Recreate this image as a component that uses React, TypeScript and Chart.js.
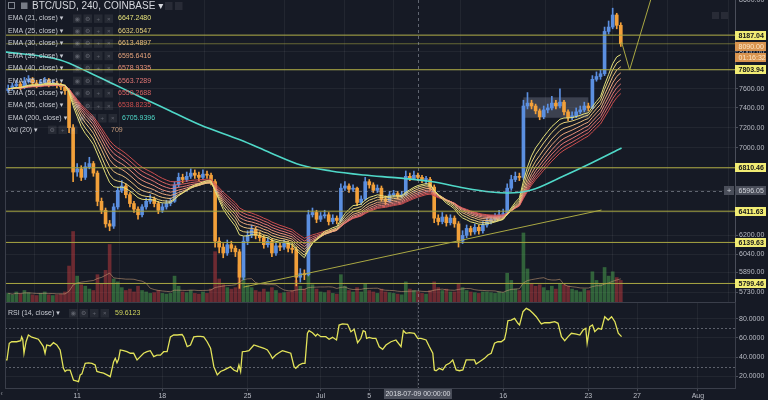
import React, { useEffect, useRef } from 'react';
import { Chart, registerables } from 'chart.js';

Chart.register(...registerables);

const FONT = '"Liberation Sans", "DejaVu Sans", Arial, sans-serif';
const BG = '#161a25';
const GRID = 'rgba(255,255,255,0.055)';
const AXIS_TEXT = '#b9bcc5';
const BORDER = '#3a3e4a';
const UP = '#5b8fe0';
const DOWN = '#f2a03a';
const VOL_UP = 'rgba(76,170,80,0.5)';
const VOL_DOWN = 'rgba(196,58,62,0.5)';
const LEVEL = '#aaa843';
const EMA200_COLOR = '#4fd8c8';

// ---------------- data ----------------
// Time is counted in days from 2018-06-01 (1 = Jun 1 00:00, 31 = Jul 1, 62 = Aug 1).
const candleStartDay = 5 + 8 / 24; // first candle Jun 5 08:00
const candleStepDays = 8 / 24; // candles read every 8 hours
const firstOpen = 7580;

const closes = [
  7600, 7630, 7650, 7620, 7680, 7700, 7660, 7640, 7670, 7690,
  7650, 7660, 7640, 7620, 7580, 7200, 6770, 6800, 6720, 6820,
  6850, 6760, 6500, 6420, 6300, 6280, 6450, 6600, 6640, 6560,
  6480, 6430, 6380, 6450, 6500, 6520, 6480, 6420, 6450, 6480,
  6500, 6650, 6720, 6700, 6730, 6760, 6740, 6720, 6750, 6740,
  6680, 6150, 6100, 6050, 6120, 6090, 6060, 5850, 6150, 6200,
  6250, 6200, 6180, 6120, 6150, 6050, 6110, 6100, 6130, 6090,
  6080, 5850, 5880, 5870, 6380, 6400, 6340, 6370, 6380, 6320,
  6350, 6330, 6620, 6640, 6610, 6620, 6490, 6520, 6680, 6650,
  6600, 6620, 6520, 6500, 6560, 6570, 6550, 6560, 6730, 6710,
  6740, 6720, 6700, 6700, 6630, 6350, 6320, 6360, 6310, 6350,
  6300, 6150, 6200, 6260, 6230, 6270, 6240, 6290, 6320, 6340,
  6360, 6380, 6390, 6620, 6700, 6730, 6720, 7420, 7450, 7420,
  7370, 7310, 7380, 7400, 7450, 7420, 7460, 7360, 7300, 7320,
  7360, 7380, 7420, 7400, 7700, 7730, 7760, 8230, 8280, 8420,
  8300, 8090,
];

const highs = [
  7640, 7660, 7690, 7670, 7720, 7740, 7720, 7690, 7700, 7720,
  7710, 7690, 7680, 7660, 7640, 7600, 7230, 6850, 6830, 6860,
  6910, 6870, 6780, 6530, 6440, 6330, 6480, 6630, 6690, 6660,
  6580, 6500, 6450, 6470, 6530, 6560, 6540, 6500, 6480, 6510,
  6530, 6680, 6760, 6750, 6770, 6800, 6790, 6770, 6790, 6780,
  6760, 6700, 6180, 6130, 6160, 6150, 6110, 6080, 6190, 6240,
  6290, 6270, 6230, 6200, 6180, 6170, 6140, 6140, 6160, 6150,
  6120, 6100, 5920, 5910, 6420, 6440, 6420, 6400, 6420, 6400,
  6380, 6370, 6660, 6680, 6660, 6650, 6630, 6550, 6720, 6700,
  6670, 6650, 6640, 6550, 6590, 6600, 6590, 6590, 6780, 6760,
  6780, 6760, 6740, 6730, 6720, 6650, 6380, 6400, 6380, 6380,
  6370, 6320, 6240, 6290, 6280, 6300, 6290, 6320, 6350, 6370,
  6390, 6420, 6430, 6660, 6740, 6770, 6760, 7480, 7560, 7480,
  7440, 7390, 7420, 7440, 7520, 7480, 7600, 7480, 7380, 7360,
  7400, 7420, 7460, 7450, 7740, 7780, 7800, 8280, 8350, 8500,
  8440, 8330,
];

const lows = [
  7560, 7585, 7610, 7590, 7600, 7660, 7630, 7610, 7620, 7650,
  7620, 7630, 7610, 7590, 7540, 7150, 6680, 6730, 6690, 6700,
  6800, 6730, 6460, 6390, 6270, 6240, 6260, 6430, 6580, 6530,
  6450, 6400, 6340, 6360, 6430, 6480, 6450, 6390, 6400, 6430,
  6460, 6490, 6630, 6670, 6680, 6710, 6710, 6690, 6700, 6710,
  6650, 6100, 6050, 6010, 6030, 6060, 6020, 5760, 5830, 6120,
  6180, 6170, 6150, 6090, 6100, 6020, 6030, 6070, 6080, 6060,
  6050, 5780, 5810, 5830, 5860, 6360, 6310, 6320, 6350, 6290,
  6300, 6300, 6320, 6600, 6580, 6590, 6460, 6470, 6510, 6620,
  6580, 6580, 6500, 6470, 6490, 6540, 6520, 6530, 6550, 6690,
  6700, 6690, 6670, 6660, 6600, 6310, 6290, 6300, 6280, 6290,
  6270, 6100, 6130, 6180, 6200, 6210, 6210, 6220, 6270, 6300,
  6320, 6340, 6350, 6380, 6600, 6680, 6690, 6700, 7390, 7390,
  7340, 7280, 7290, 7350, 7380, 7390, 7400, 7330, 7270, 7280,
  7300, 7340, 7360, 7370, 7390, 7680, 7700, 7740, 8200, 8260,
  8260, 8060,
];

const volumes = [
  600, 500, 700, 550, 800, 650, 500, 450, 600, 700,
  500, 450, 500, 550, 700, 2500, 4900, 1800, 1200, 1100,
  900, 800, 1900, 1300, 2200, 4000, 1600, 1400, 1000, 800,
  900, 700, 1100, 800, 700, 600, 650, 800, 600, 550,
  600, 1800, 1100, 700, 650, 800, 600, 550, 700, 600,
  900, 3500, 1600, 1200, 1000, 900, 1000, 2600, 2200, 1200,
  1000, 800, 700, 900, 700, 1000, 800, 600, 650, 700,
  800, 1500, 1100, 900, 2000, 1200, 900, 700, 650, 800,
  600, 550, 1900, 1100, 800, 700, 1000, 700, 1300, 800,
  700, 600, 900, 700, 650, 600, 550, 500, 1400, 900,
  800, 709, 600, 550, 800, 1400, 1000, 800, 900, 700,
  700, 1300, 1000, 800, 700, 650, 600, 700, 700, 650,
  600, 700, 650, 2000, 1500, 900, 800, 4800, 2300, 1300,
  1100, 1200, 1000, 800, 1100, 900, 1300, 1200, 1100, 900,
  800, 700, 900, 800, 2100, 1500, 1300, 2400, 1800, 2100,
  1700, 1500,
];

const ema200Days = [5.07, 9.6, 12.07, 13.97, 16.19, 18.66, 21.13, 24.43, 26.9, 29.37, 31.84, 34.56, 37.36, 40.08, 42.8, 45.02, 46.42, 48.32, 50.79, 53.26, 55.73];
const ema200Values = [8000, 7910, 7769, 7651, 7514, 7369, 7227, 7078, 6952, 6837, 6780, 6742, 6715, 6682, 6622, 6585, 6576, 6603, 6724, 6856, 7000];

const rsiDays = [
  5.07, 5.23, 5.42, 5.62, 6.03, 6.36, 6.44, 6.53, 6.63, 6.8,
  6.99, 7.27, 7.54, 7.81, 7.95, 8.22, 8.36, 8.5, 8.78, 9.05,
  9.33, 9.6, 9.87, 10.01, 10.15, 10.42, 10.7, 10.98, 11.11, 11.25,
  11.39, 11.66, 11.93, 12.21, 12.48, 12.62, 12.89, 13.17, 13.45, 13.72,
  13.99, 14.13, 14.27, 14.4, 14.54, 14.81, 15.09, 15.37, 15.64, 15.78,
  15.92, 16.05, 16.19, 16.46, 16.74, 17.01, 17.29, 17.56, 17.84, 18.11,
  18.39, 18.66, 18.93, 19.21, 19.62, 19.76, 20.04, 20.31, 20.58, 20.86,
  21.13, 21.4, 21.68, 21.96, 22.23, 22.51, 22.78, 23.05, 23.33, 23.6,
  23.87, 24.15, 24.29, 24.43, 24.57, 24.84, 25.11, 25.52, 25.93, 26.35,
  26.63, 26.9, 27.04, 27.31, 27.58, 27.86, 28.13, 28.55, 28.82, 28.96,
  29.23, 29.51, 29.72, 29.92, 30.05, 30.33, 30.6, 30.74, 31.02, 31.43,
  31.7, 31.98, 32.31, 32.52, 32.8, 33.22, 33.49, 33.76, 34.04, 34.31,
  34.5, 34.67, 34.78, 34.99, 35.27, 35.54, 35.82, 36.1, 36.37, 36.78,
  37.19, 37.61, 37.8, 38.02, 38.29, 38.71, 38.98, 39.25, 39.67, 39.94,
  40.22, 40.35, 40.49, 40.76, 41.04, 41.31, 41.59, 41.86, 42.0, 42.14,
  42.41, 42.69, 42.96, 43.23, 43.64, 43.78, 44.06, 44.47, 44.75, 45.02,
  45.29, 45.57, 45.84, 46.11, 46.25, 46.39, 46.66, 46.94, 47.21, 47.35,
  47.63, 47.9, 48.17, 48.45, 48.72, 49.0, 49.14, 49.41, 49.82, 50.24,
  50.51, 50.65, 50.79, 51.06, 51.34, 51.61, 52.02, 52.3, 52.57, 52.79,
  52.9, 53.12, 53.34, 53.53, 53.81, 54.08, 54.35, 54.63, 54.91, 55.18,
  55.46, 55.73,
];
const rsiValues = [
  37, 37, 54.4, 56, 56, 57.1, 61, 58.4, 44, 56,
  63, 60.7, 59.7, 58.6, 56, 51, 44, 52.6, 51.6, 55,
  52.6, 47.4, 28.3, 25, 26.5, 26.5, 16, 15, 14.4, 21.5,
  22.5, 33.5, 34, 33.5, 31.8, 25, 24, 23.2, 21.5, 19.6,
  35, 38.7, 34, 37.6, 47.4, 46.7, 45.6, 44, 44, 40.5,
  37, 38.7, 40.5, 44, 45.6, 46.7, 40.5, 42, 42, 45.6,
  45.6, 61, 63, 63, 63.5, 61, 51, 52.6, 61, 61.5,
  61.5, 61, 56, 49.3, 30, 21.5, 25, 26.5, 28.3, 30,
  26.5, 25, 31.8, 25, 45.6, 46, 46.7, 52.6, 50.8, 49.2,
  47.4, 42.2, 38.7, 42.2, 44.6, 46.7, 45.6, 44, 30, 28.3,
  31.8, 33.5, 33.5, 64.8, 67.5, 65.4, 62, 64, 61.3, 61.3,
  58.5, 60.6, 57.8, 73.4, 74.5, 74.1, 66.5, 69, 55, 59.6,
  67.5, 66.5, 59.6, 60.6, 59.6, 59.6, 50.8, 48.1, 52.6, 56,
  57.8, 50.8, 67.5, 64.8, 65.4, 64.8, 59.6, 59.6, 57.8, 50.8,
  44, 26.6, 25.8, 28.3, 26.6, 31.8, 33.5, 37, 31.8, 26.6,
  25.8, 26.6, 37, 37, 37, 32.8, 35.2, 38.7, 42.2, 44,
  54.4, 56, 56, 58.5, 66.5, 77.9, 78.6, 80.4, 75.2, 73.4,
  87.3, 90.8, 89, 85.6, 82.1, 76.9, 74.5, 75.8, 75.8, 76.9,
  75.2, 68.2, 61.3, 57.1, 61.3, 64.8, 64, 63, 68.2, 70,
  54.4, 71.7, 73.4, 66.5, 70, 69, 82.1, 78.6, 82.1, 76.9,
  64.8, 61.3,
];

const levelPrices = [8187.04, 7803.94, 6810.46, 6411.63, 6139.63, 5799.46];
const lastPrice = 8090.0;
const countdownText = '01:16:32';
const crosshairDay = 39; // 2018-07-09 00:00
const crosshairPrice = 6596.05;
const crosshairLabel = '2018-07-09 00:00:00';
const trendDays = [24.67, 54.08];
const trendPrices = [5770, 6422];
const projectionDays = [55.73, 56.39, 58.25];
const projectionPrices = [8110, 7800, 8660];
const boxDays = [47.66, 53.0];
const boxPrices = [7300, 7510];

const xTickDays = [11, 18, 25, 31, 35, 39, 46, 53, 57, 62];
const xTickLabels = ['11', '18', '25', 'Jul', '5', '', '16', '23', '27', 'Aug'];
const priceTicks = [5730, 5890, 6040, 6200, 6400, 6600, 6800, 7000, 7200, 7400, 7600, 7800, 8000, 8200, 8600];
const rsiTicks = [20, 40, 60, 80];

const emaPeriods = [21, 25, 30, 35, 40, 45, 50, 55];
const emaColors = ['#e6e27a', '#e8d27c', '#e9bd7d', '#e9a67d', '#e88f7b', '#e27775', '#d86262', '#cc4e4e'];
const emaLegendValues = ['6647.2480', '6632.0547', '6613.4897', '6595.6416', '6578.9335', '6563.7289', '6550.2688', '6538.8235'];
const ema200Legend = '6705.9396';
const volLegend = '709';
const rsiLegend = '59.6123';

// axis ranges
const X_MIN = 5.07;
const X_MAX = 65.05;
const PRICE_MIN = 5652;
const PRICE_MAX = 8597;
const VOL_MAX = 21000;
const RSI_MIN = 7.8;
const RSI_MAX = 96.35;

// ---------------- helpers ----------------
function emaOf(values: number[], period: number): number[] {
  // periods count 4h bars; the series here is sampled every 8h
  const k = 2 / (period / 2 + 1);
  const out: number[] = [];
  let e = values[0];
  values.forEach((v, i) => {
    e = i === 0 ? v : v * k + e * (1 - k);
    out.push(e);
  });
  return out;
}

function smaOf(values: number[], n: number): number[] {
  return values.map((_, i) => {
    const s = values.slice(Math.max(0, i - n + 1), i + 1);
    return s.reduce((a, b) => a + b, 0) / s.length;
  });
}

function font(size: number, bold = false) {
  return `${bold ? 'bold ' : ''}${size}px ${FONT}`;
}

function tag(ctx: CanvasRenderingContext2D, yc: number, text: string, bg: string, fg: string, bold: boolean) {
  ctx.fillStyle = bg;
  ctx.fillRect(735, Math.round(yc - 4.5), 31, 9);
  ctx.fillStyle = fg;
  ctx.font = font(7, bold);
  ctx.textAlign = 'left';
  ctx.textBaseline = 'middle';
  ctx.fillText(text, 738.5, Math.round(yc - 4.5) + 4.8);
}

function buttons(ctx: CanvasRenderingContext2D, x0: number, yc: number, n: number) {
  const glyphs = ['◉', '⚙', '+', '×'];
  for (let j = 0; j < n; j++) {
    const bx = x0 + j * 10.5;
    ctx.fillStyle = 'rgba(255,255,255,0.07)';
    ctx.fillRect(bx, yc - 4, 8.5, 8.5);
    ctx.fillStyle = 'rgba(200,204,212,0.35)';
    ctx.font = font(6);
    ctx.textAlign = 'center';
    ctx.fillText(glyphs[j + (4 - n)], bx + 4.25, yc + 0.5);
  }
  ctx.textAlign = 'left';
}

const mainOverlay = {
  id: 'mainOverlay',
  beforeDatasetsDraw(chart: any) {
    const { ctx, scales } = chart;
    const x1 = scales.x.getPixelForValue(boxDays[0]);
    const x2 = scales.x.getPixelForValue(boxDays[1]);
    const y1 = scales.y.getPixelForValue(boxPrices[1]);
    const y2 = scales.y.getPixelForValue(boxPrices[0]);
    ctx.save();
    ctx.fillStyle = 'rgba(150,156,178,0.30)';
    ctx.fillRect(x1, y1, x2 - x1, y2 - y1);
    ctx.restore();
  },
  afterDatasetsDraw(chart: any) {
    const { ctx, chartArea: a, scales } = chart;
    const cx = Math.round(scales.x.getPixelForValue(crosshairDay)) + 0.5;
    const cy = Math.round(scales.y.getPixelForValue(crosshairPrice)) + 0.5;
    ctx.save();
    ctx.strokeStyle = 'rgba(170,175,188,0.5)';
    ctx.lineWidth = 1;
    ctx.setLineDash([3, 3]);
    ctx.beginPath();
    ctx.moveTo(cx, a.top);
    ctx.lineTo(cx, a.bottom);
    ctx.moveTo(a.left, cy);
    ctx.lineTo(a.right, cy);
    ctx.stroke();
    ctx.restore();
  },
  afterDraw(chart: any) {
    const { ctx, chartArea: a, scales } = chart;
    ctx.save();
    // left border
    ctx.strokeStyle = BORDER;
    ctx.lineWidth = 1;
    ctx.beginPath();
    ctx.moveTo(a.left + 0.5, a.top);
    ctx.lineTo(a.left + 0.5, a.bottom);
    ctx.stroke();

    // title
    ctx.strokeStyle = 'rgba(200,205,215,0.6)';
    ctx.strokeRect(8.5, 2.5, 6, 6);
    ctx.fillStyle = 'rgba(200,205,215,0.55)';
    ctx.fillRect(21, 2.5, 6.5, 6.5);
    ctx.font = font(10);
    ctx.fillStyle = '#d6d8de';
    ctx.textBaseline = 'middle';
    ctx.textAlign = 'left';
    ctx.fillText('BTC/USD, 240, COINBASE ▾', 32, 6.5);
    ctx.fillStyle = 'rgba(255,255,255,0.08)';
    ctx.fillRect(165, 2, 7.5, 8);
    ctx.fillRect(175, 2, 7.5, 8);
    ctx.fillRect(712, 12, 7, 7);
    ctx.fillRect(721, 12, 7, 7);

    // indicator legend rows
    const rows = emaPeriods.map((p, k) => ({
      label: `EMA (${p}, close) ▾`, value: emaLegendValues[k], color: emaColors[k], bx: 73, vx: 118, n: 4,
    }));
    rows.push({ label: 'EMA (200, close) ▾', value: ema200Legend, color: EMA200_COLOR, bx: 77, vx: 122, n: 4 });
    rows.push({ label: 'Vol (20) ▾', value: volLegend, color: '#c89c7c', bx: 48, vx: 111, n: 3 });
    rows.forEach((r, k) => {
      const yc = k < 9 ? 18.4 + k * 12.45 : 129.6;
      ctx.font = font(7);
      ctx.fillStyle = '#c8cbd2';
      ctx.textBaseline = 'middle';
      ctx.fillText(r.label, 8, yc);
      buttons(ctx, r.bx, yc, r.n);
      ctx.font = font(7);
      ctx.fillStyle = r.color;
      ctx.textBaseline = 'middle';
      ctx.fillText(r.value, r.vx, yc);
    });

    // price tags on the right axis
    const ys = scales.y;
    levelPrices.forEach((p) => tag(ctx, ys.getPixelForValue(p), p.toFixed(2), '#f1ec74', '#15161a', true));
    const lp = ys.getPixelForValue(lastPrice);
    tag(ctx, lp + 3, lastPrice.toFixed(2), '#d9944f', '#fde6c6', false);
    tag(ctx, lp + 13.5, countdownText, '#d9944f', '#fde6c6', false);
    const cp = ys.getPixelForValue(crosshairPrice);
    tag(ctx, cp, crosshairPrice.toFixed(2), '#4a4e5a', '#d0d3da', false);
    ctx.fillStyle = '#4a4e5a';
    ctx.fillRect(724, Math.round(cp - 4.5), 10, 9);
    ctx.fillStyle = '#c9ccd3';
    ctx.font = font(8);
    ctx.textAlign = 'center';
    ctx.fillText('+', 729, Math.round(cp - 4.5) + 4.8);
    ctx.restore();
  },
};

const rsiOverlay = {
  id: 'rsiOverlay',
  beforeDatasetsDraw(chart: any) {
    const { ctx, chartArea: a, scales } = chart;
    ctx.save();
    ctx.strokeStyle = 'rgba(180,185,196,0.45)';
    ctx.lineWidth = 1;
    ctx.setLineDash([2, 2]);
    ctx.beginPath();
    [30, 70].forEach((v) => {
      const y = Math.round(scales.y.getPixelForValue(v)) + 0.5;
      ctx.moveTo(a.left, y);
      ctx.lineTo(a.right, y);
    });
    const cx = Math.round(scales.x.getPixelForValue(crosshairDay)) + 0.5;
    ctx.moveTo(cx, a.top);
    ctx.lineTo(cx, a.bottom);
    ctx.stroke();
    ctx.restore();
  },
  afterDraw(chart: any) {
    const { ctx, chartArea: a, scales } = chart;
    ctx.save();
    ctx.strokeStyle = BORDER;
    ctx.lineWidth = 1;
    ctx.strokeRect(a.left + 0.5, a.top - 0.5, a.right - a.left, a.bottom - a.top + 1);

    const yc = 11;
    ctx.font = font(7);
    ctx.fillStyle = '#c8cbd2';
    ctx.textBaseline = 'middle';
    ctx.textAlign = 'left';
    ctx.fillText('RSI (14, close) ▾', 8, yc);
    buttons(ctx, 69, yc, 4);
    ctx.font = font(7);
    ctx.fillStyle = '#cfd45e';
    ctx.fillText(rsiLegend, 115, yc);

    // crosshair time label
    const cx = scales.x.getPixelForValue(crosshairDay);
    ctx.fillStyle = '#4b4f5b';
    ctx.fillRect(cx - 34, a.bottom + 1, 68, 10);
    ctx.fillStyle = '#d8dae0';
    ctx.font = font(7);
    ctx.textAlign = 'center';
    ctx.fillText(crosshairLabel, cx, a.bottom + 6.3);
    ctx.fillStyle = '#8a8d96';
    ctx.textAlign = 'left';
    ctx.fillText('‹', 0.5, a.bottom + 6);
    ctx.restore();
  },
};

function buildMainConfig(): any {
  const candleDays = closes.map((_, i) => candleStartDay + i * candleStepDays);
  const opens = closes.map((_, i) => (i === 0 ? firstOpen : closes[i - 1]));
  const candleColors = closes.map((c, i) => (c >= opens[i] ? UP : DOWN));
  const volColors = closes.map((c, i) => (c >= opens[i] ? VOL_UP : VOL_DOWN));
  const volMa = smaOf(volumes, 10);

  const line = (data: any[], color: string, width: number, order: number, extra: any = {}) => ({
    type: 'line', data, borderColor: color, borderWidth: width, pointRadius: 0, order, yAxisID: 'y', ...extra,
  });

  const datasets: any[] = [
    line(projectionDays.map((d, i) => ({ x: d, y: projectionPrices[i] })), LEVEL, 1, 0),
    line(trendDays.map((d, i) => ({ x: d, y: trendPrices[i] })), LEVEL, 1, 0),
    line([{ x: X_MIN, y: lastPrice }, { x: X_MAX, y: lastPrice }], 'rgba(170,168,67,0.55)', 1, 1),
    ...levelPrices.map((p) => line([{ x: X_MIN, y: p }, { x: X_MAX, y: p }], LEVEL, 1, 1)),
    line(ema200Days.map((d, i) => ({ x: d, y: ema200Values[i] })), EMA200_COLOR, 1.6, 2, { cubicInterpolationMode: 'monotone' }),
    ...emaPeriods.map((p, k) => {
      const vals = emaOf(closes, p);
      return line(vals.map((v, i) => ({ x: candleDays[i], y: v })), emaColors[k], 1, 3);
    }),
    {
      type: 'bar', data: candleDays.map((d, i) => ({ x: d, y: [opens[i], closes[i]] })),
      backgroundColor: candleColors, barThickness: 3, minBarLength: 1, grouped: false, order: 4, yAxisID: 'y',
    },
    {
      type: 'bar', data: candleDays.map((d, i) => ({ x: d, y: [lows[i], highs[i]] })),
      backgroundColor: candleColors, barThickness: 1, grouped: false, order: 5, yAxisID: 'y',
    },
    {
      type: 'line', data: volMa.map((v, i) => ({ x: candleDays[i], y: v })), borderColor: 'rgba(205,160,120,0.55)',
      borderWidth: 1, pointRadius: 0, order: 6, yAxisID: 'v',
    },
    {
      type: 'bar', data: candleDays.map((d, i) => ({ x: d, y: volumes[i] })),
      backgroundColor: volColors, barThickness: 3, grouped: false, order: 7, yAxisID: 'v',
    },
  ];

  return {
    type: 'bar',
    data: { datasets },
    plugins: [mainOverlay],
    options: {
      animation: false,
      responsive: false,
      devicePixelRatio: 1,
      events: [],
      layout: { padding: { left: 5, right: 0, top: 0, bottom: 0 } },
      plugins: { legend: { display: false }, tooltip: { enabled: false } },
      scales: {
        x: {
          type: 'linear', min: X_MIN, max: X_MAX, offset: false,
          afterBuildTicks: (s: any) => { s.ticks = xTickDays.map((v) => ({ value: v })); },
          ticks: { display: false },
          grid: { color: GRID, drawTicks: false },
          border: { display: false },
          afterFit: (s: any) => { s.height = 0; s.paddingLeft = 0; s.paddingRight = 0; },
        },
        y: {
          type: 'logarithmic', position: 'right', min: PRICE_MIN, max: PRICE_MAX,
          afterBuildTicks: (s: any) => { s.ticks = priceTicks.map((v) => ({ value: v })); },
          ticks: {
            callback: (v: any) => Number(v).toFixed(2), color: AXIS_TEXT, font: { size: 7, family: FONT },
            padding: 1, autoSkip: false,
          },
          grid: { color: GRID, tickLength: 3, tickColor: '#4a4e5a' },
          border: { display: true, color: '#4a4e5a' },
          afterFit: (s: any) => { s.width = 33; s.paddingTop = 0; s.paddingBottom = 0; },
        },
        v: { type: 'linear', axis: 'y', display: false, min: 0, max: VOL_MAX },
      },
    },
  };
}

function buildRsiConfig(): any {
  return {
    type: 'line',
    data: {
      datasets: [{
        data: rsiDays.map((d, i) => ({ x: d, y: rsiValues[i] })),
        borderColor: '#e3e35a', borderWidth: 1.3, pointRadius: 0,
      }],
    },
    plugins: [rsiOverlay],
    options: {
      animation: false,
      responsive: false,
      devicePixelRatio: 1,
      events: [],
      layout: { padding: { left: 5, right: 0, top: 1, bottom: 0 } },
      plugins: { legend: { display: false }, tooltip: { enabled: false } },
      scales: {
        x: {
          type: 'linear', min: X_MIN, max: X_MAX, offset: false,
          afterBuildTicks: (s: any) => { s.ticks = xTickDays.map((v) => ({ value: v })); },
          ticks: {
            callback: (v: any) => { const i = xTickDays.indexOf(Number(v)); return i >= 0 ? xTickLabels[i] : ''; },
            color: AXIS_TEXT, font: { size: 7, family: FONT }, padding: 1, autoSkip: false, maxRotation: 0,
          },
          grid: { color: GRID, tickLength: 3, tickColor: '#4a4e5a' },
          border: { display: true, color: BORDER },
          afterFit: (s: any) => { s.height = 12; s.paddingLeft = 0; s.paddingRight = 0; },
        },
        y: {
          type: 'linear', position: 'right', min: RSI_MIN, max: RSI_MAX,
          afterBuildTicks: (s: any) => { s.ticks = rsiTicks.map((v) => ({ value: v })); },
          ticks: {
            callback: (v: any) => Number(v).toFixed(4), color: AXIS_TEXT, font: { size: 7, family: FONT },
            padding: 1, autoSkip: false,
          },
          grid: { color: GRID, tickLength: 3, tickColor: '#4a4e5a' },
          border: { display: true, color: '#4a4e5a' },
          afterFit: (s: any) => { s.width = 33; s.paddingTop = 0; s.paddingBottom = 0; },
        },
      },
    },
  };
}

export default function App() {
  const mainRef = useRef<HTMLCanvasElement>(null);
  const rsiRef = useRef<HTMLCanvasElement>(null);

  useEffect(() => {
    Chart.defaults.font.family = FONT;
    const main = new Chart(mainRef.current as HTMLCanvasElement, buildMainConfig());
    const rsi = new Chart(rsiRef.current as HTMLCanvasElement, buildRsiConfig());
    return () => {
      main.destroy();
      rsi.destroy();
    };
  }, []);

  return (
    <div style={{ position: 'fixed', left: 0, top: 0, width: 768, height: 400, background: BG, overflow: 'hidden' }}>
      <canvas ref={mainRef} width={768} height={302} style={{ position: 'absolute', left: 0, top: 0, width: 768, height: 302 }} />
      <canvas ref={rsiRef} width={768} height={98} style={{ position: 'absolute', left: 0, top: 302, width: 768, height: 98 }} />
    </div>
  );
}
